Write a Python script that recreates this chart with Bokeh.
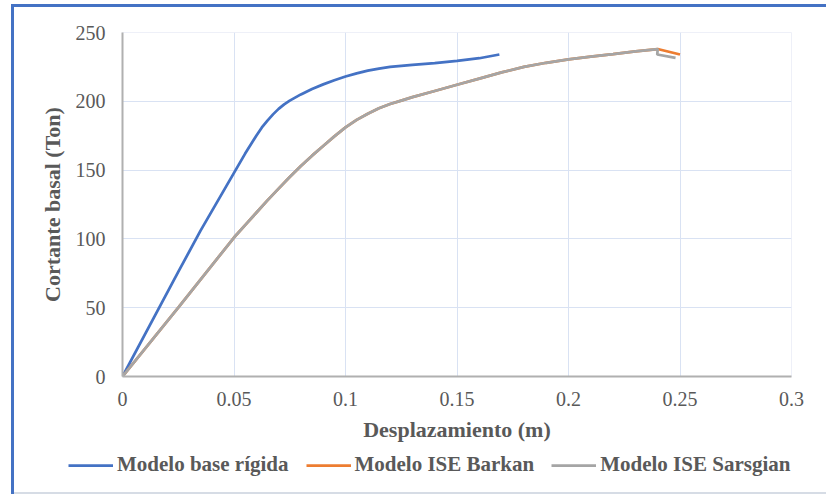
from bokeh.plotting import figure
from bokeh.layouts import column
from bokeh.models import FixedTicker, NumeralTickFormatter, Legend, LegendItem, Range1d
from bokeh.embed import file_html
from bokeh.resources import INLINE

# ---- data ----
x_ticks = [0, 0.05, 0.1, 0.15, 0.2, 0.25, 0.3]
y_ticks = [0, 50, 100, 150, 200, 250]

base_x = [0, 0.025, 0.035, 0.045, 0.05, 0.055, 0.06, 0.0625, 0.065, 0.0675, 0.07,
          0.0725, 0.075, 0.08, 0.085, 0.09, 0.095, 0.1, 0.105, 0.11, 0.115, 0.12,
          0.13, 0.14, 0.15, 0.16, 0.169]
base_y = [0, 76, 106, 134, 148, 162, 175, 181, 186, 190.5, 194.5,
          197.8, 200.5, 205, 209, 212.3, 215.3, 218, 220.3, 222.3, 223.8, 225,
          226.5, 227.8, 229.3, 231.3, 234]

barkan_x = [0, 0.025, 0.05, 0.055, 0.06, 0.065, 0.07, 0.075, 0.08, 0.085, 0.09,
            0.095, 0.1, 0.105, 0.11, 0.115, 0.12, 0.125, 0.13, 0.14, 0.15, 0.16,
            0.17, 0.18, 0.19, 0.2, 0.21, 0.22, 0.23, 0.24, 0.25]
barkan_y = [0, 50, 101, 110, 119, 128, 136.5, 145, 153, 160.5, 167.5,
            174.5, 181, 186.5, 191, 195, 198, 200.5, 203, 207.5, 212, 216.5,
            221, 225, 228, 230.5, 232.5, 234.3, 236.2, 238, 234]

sars_x = [0, 0.025, 0.05, 0.055, 0.06, 0.065, 0.07, 0.075, 0.08, 0.085, 0.09,
          0.095, 0.1, 0.105, 0.11, 0.115, 0.12, 0.125, 0.13, 0.14, 0.15, 0.16,
          0.17, 0.18, 0.19, 0.2, 0.21, 0.22, 0.23, 0.24, 0.2398, 0.248]
sars_y = [0, 50, 101, 110, 119, 128, 136.5, 145, 153, 160.5, 167.5,
          174.5, 181, 186.5, 191, 195, 198, 200.5, 203, 207.5, 212, 216.5,
          221, 225, 228, 230.5, 232.5, 234.3, 236.2, 238, 234, 231.5]

names = ["Modelo base rígida", "Modelo ISE Barkan", "Modelo ISE Sarsgian"]
colors = ["#4472C4", "#ED7D31", "#A5A5A5"]

TXT = "#595959"
SERIF = "Liberation Serif"

p = figure(width=826, height=450, output_backend="svg", toolbar_location=None,
           x_range=Range1d(0, 0.3), y_range=Range1d(0, 250),
           min_border_left=122, min_border_right=35, min_border_top=32,
           min_border_bottom=74)

p.background_fill_color = "white"
p.border_fill_color = None
p.outline_line_color = "#EEF0F8"

# grid
p.xgrid.ticker = FixedTicker(ticks=x_ticks)
p.ygrid.ticker = FixedTicker(ticks=y_ticks)
for g in (p.xgrid, p.ygrid):
    g.grid_line_color = "#D9E2F3"
    g.grid_line_width = 1

# axes
p.xaxis.ticker = FixedTicker(ticks=x_ticks)
p.yaxis.ticker = FixedTicker(ticks=y_ticks)
p.xaxis.formatter = NumeralTickFormatter(format="0.[00]")
for ax in (p.xaxis[0], p.yaxis[0]):
    ax.axis_line_color = "#B0B0B0"
    ax.axis_line_width = 2
    ax.major_tick_line_color = None
    ax.minor_tick_line_color = None
    ax.major_tick_out = 0
    ax.major_tick_in = 0
    ax.major_label_text_font = SERIF
    ax.major_label_text_font_size = "20px"
    ax.major_label_text_color = TXT
    ax.axis_label_text_font = SERIF
    ax.axis_label_text_font_size = "22px"
    ax.axis_label_text_font_style = "bold"
    ax.axis_label_text_color = TXT
p.xaxis.axis_label = "Desplazamiento (m)"
p.yaxis.axis_label = "Cortante basal (Ton)"
p.xaxis.major_label_standoff = 15
p.xaxis.axis_label_standoff = 8
p.yaxis.major_label_standoff = 17
p.yaxis.axis_label_standoff = 8

# lines
r1 = p.line(base_x, base_y, line_color=colors[0], line_width=2.75)
r2 = p.line(barkan_x, barkan_y, line_color=colors[1], line_width=2.75)
r3 = p.line(sars_x, sars_y, line_color=colors[2], line_width=2.75)

# legend strip (separate, axis-less figure below the chart)
lg = figure(width=826, height=44, output_backend="svg", toolbar_location=None,
            x_axis_type=None, y_axis_type=None, min_border=0,
            x_range=Range1d(0, 1), y_range=Range1d(0, 1))
lg.frame_align = False
lg.grid.visible = False
lg.outline_line_color = None
lg.background_fill_color = None
lg.border_fill_color = None
# legend-only renderers: their points lie outside the strip's ranges
g1 = lg.line([-5, -4], [-5, -4], line_color=colors[0], line_width=2.75)
g2 = lg.line([-5, -4], [-5, -4], line_color=colors[1], line_width=2.75)
g3 = lg.line([-5, -4], [-5, -4], line_color=colors[2], line_width=2.75)

legend = Legend(items=[LegendItem(label=names[0], renderers=[g1]),
                       LegendItem(label=names[1], renderers=[g2]),
                       LegendItem(label=names[2], renderers=[g3])],
                orientation="horizontal", location=(68, 17),
                padding=2, margin=0, spacing=17, glyph_width=45, glyph_height=20,
                label_standoff=4, border_line_color=None, background_fill_alpha=0,
                label_text_font=SERIF, label_text_font_size="21px",
                label_text_font_style="bold", label_text_color=TXT)
lg.add_layout(legend, "center")

page = column(p, lg, spacing=0, styles={
    "background": ("linear-gradient(#4472C4,#4472C4) 11px 4px/3px 490px no-repeat, "
                   "linear-gradient(#4472C4,#4472C4) 11px 4px/815px 3px no-repeat, "
                   "linear-gradient(#D6DCE5,#D6DCE5) 11px 492px/815px 2px no-repeat, "
                   "#FFFFFF")})

open("out.html", "w").write(file_html(page, INLINE))
